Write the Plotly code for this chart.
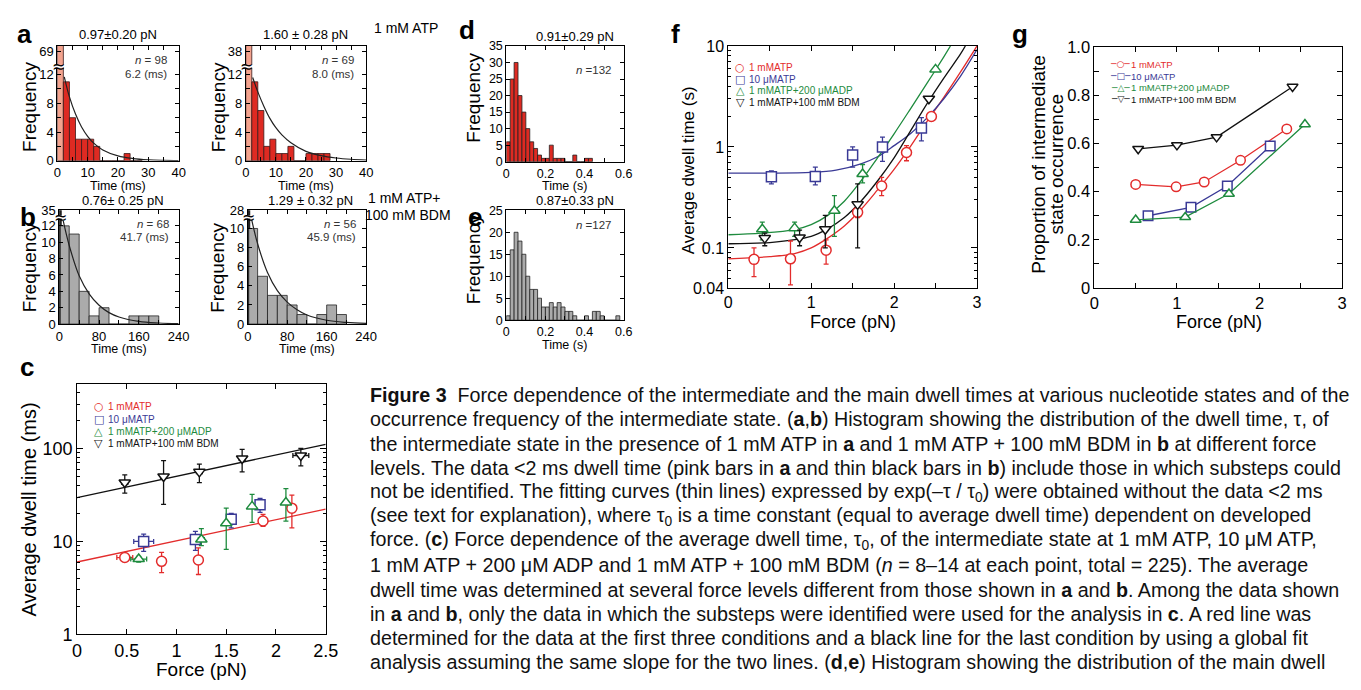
import plotly.graph_objects as go

W, H = 1361, 690
FONT = "Liberation Sans, Arial, sans-serif"
CAPFONT = "Liberation Sans, Arial, sans-serif"
SYMFONT = "DejaVu Sans, sans-serif"

RED = "#E32C2C"
BLUE = "#3A3A96"
GREEN = "#1E8B3E"
BLACK = "#111111"
BAR_RED = "#DE2A22"
BAR_PINK = "#F3A38E"
BAR_GRAY = "#ABABAB"
FIT = "#222222"

# ------------------------------------------------------------------ data
# (a) 1 mM ATP: intermediate dwell time histograms, 2-ms bins (first bin <2 ms)
a_bin_width_ms = 2
a1_counts = [69, 11, 6, 3, 3, 3, 2, 0, 0, 0, 0, 1, 0, 0]
a2_counts = [38, 11, 7, 2, 3, 1, 1, 2, 0, 0, 1, 1, 1, 1]
a_fit_t_ms = [2.3, 4, 6, 8, 10, 12, 15, 20, 25, 30, 35, 40]
a1_fit = [11.7, 8.9, 6.5, 4.7, 3.4, 2.45, 1.5, 0.67, 0.30, 0.13, 0.06, 0.03]
a2_fit = [11.6, 9.6, 7.6, 5.9, 4.6, 3.6, 2.5, 1.3, 0.7, 0.38, 0.2, 0.1]
a_titles = ["0.97\u00b10.20 pN", "1.60 \u00b1 0.28 pN"]
a_n = ["98", "69"]
a_tau = ["6.2 (ms)", "8.0 (ms)"]

# (b) 1 mM ATP + 100 mM BDM: bins <2 ms (thin black), 2-20 ms, then 20-ms bins
b_bin_left_ms = [0, 2, 20, 40, 60, 80, 100, 120, 140, 160, 180]
b_bin_right_ms = [2, 20, 40, 60, 80, 100, 120, 140, 160, 180, 200]
b1_counts = [35, 12, 11, 4, 1, 2, 0, 0, 1, 1, 1]
b2_counts = [28, 10, 5, 3, 3, 2, 1, 0, 1, 2, 1]
b_fit_t_ms = [8, 20, 40, 60, 80, 100, 120, 160, 200, 240]
b1_fit = [12.6, 9.6, 5.9, 3.7, 2.3, 1.4, 0.87, 0.33, 0.13, 0.05]
b2_fit = [10.9, 8.4, 5.4, 3.5, 2.3, 1.5, 0.95, 0.4, 0.17, 0.07]
b_titles = ["0.76\u00b1 0.25 pN", "1.29 \u00b1 0.32 pN"]
b_n = ["68", "56"]
b_tau = ["41.7 (ms)", "45.9 (ms)"]

# (c) average intermediate dwell time (ms) vs force (pN)
series_names = ["1 mMATP", "10 \u03bcMATP", "1 mMATP+200 \u03bcMADP", "1 mMATP+100 mM BDM"]
c_red_F = [0.48, 0.85, 1.22, 1.87, 2.16]
c_red_t = [6.7, 6.1, 6.3, 16.6, 22.8]
c_red_hi = [7.3, 7.6, 8.5, 19.5, 31.5]
c_red_lo = [6.1, 4.6, 4.4, 14.5, 14.0]
c_red_Ferr = [0.08, 0.0, 0.0, 0.0, 0.02]
c_blue_F = [0.67, 1.19, 1.55, 1.84]
c_blue_t = [10.0, 10.5, 17.3, 24.8]
c_blue_hi = [12.0, 12.8, 20.0, 29.0]
c_blue_lo = [7.8, 8.0, 14.0, 20.5]
c_blue_Ferr = [0.1, 0.04, 0.03, 0.03]
c_green_F = [0.62, 1.25, 1.50, 1.76, 2.10]
c_green_t = [6.45, 10.5, 15.7, 23.8, 26.2]
c_green_hi = [6.9, 13.7, 22.8, 32.0, 37.0]
c_green_lo = [6.0, 9.0, 8.2, 16.0, 16.5]
c_green_Ferr = [0.08, 0.03, 0.0, 0.02, 0.0]
c_black_F = [0.48, 0.87, 1.23, 1.66, 2.25]
c_black_t = [43, 50, 56, 78, 84]
c_black_hi = [52, 74, 68, 98, 100]
c_black_lo = [33, 25, 43, 56, 65]
c_black_Ferr = [0.03, 0.03, 0.03, 0.03, 0.08]
c_fit_F = [0.0, 2.5]
c_fit_red = [6.0, 22.3]
c_fit_black = [29.5, 111.0]

# (d), (e) main dwell time histograms, 20-ms bins
de_bin_width_s = 0.02
d_counts = [6, 25, 30, 20, 15, 10, 6, 4, 2, 1, 1, 5, 1, 1, 1, 0, 0, 2, 0, 0, 1, 1]
e_counts = [1, 16, 20, 18, 15, 10, 7, 7, 5, 3, 3, 4, 3, 4, 3, 2, 2, 1, 0, 0, 1, 0, 2, 2, 1, 0, 0, 0, 1]

# (f) average main dwell time (s) vs force
f_red_F = [0.31, 0.75, 1.18, 1.56, 1.85, 2.15, 2.45]
f_red_t = [0.077, 0.078, 0.095, 0.225, 0.41, 0.88, 2.0]
f_red_hi = [0.10, 0.117, 0.12, 0.27, 0.50, 1.03, 2.1]
f_red_lo = [0.052, 0.043, 0.069, 0.20, 0.33, 0.73, 1.9]
f_blue_F = [0.52, 1.05, 1.50, 1.86, 2.33]
f_blue_t = [0.507, 0.51, 0.83, 1.0, 1.54]
f_blue_hi = [0.58, 0.63, 1.0, 1.25, 1.95]
f_blue_lo = [0.43, 0.42, 0.63, 0.72, 1.15]
f_green_F = [0.41, 0.80, 1.28, 1.62, 2.50]
f_green_t = [0.153, 0.157, 0.233, 0.54, 5.86]
f_green_hi = [0.18, 0.18, 0.33, 0.67, 5.9]
f_green_lo = [0.12, 0.13, 0.13, 0.44, 5.8]
f_black_F = [0.44, 0.86, 1.17, 1.56, 2.42]
f_black_t = [0.125, 0.127, 0.153, 0.27, 3.0]
f_black_hi = [0.14, 0.15, 0.21, 0.43, 3.1]
f_black_lo = [0.105, 0.105, 0.10, 0.10, 2.9]
f_fit_red_F = [0, 0.5, 0.8, 1.0, 1.2, 1.4, 1.6, 1.8, 2.0, 2.2, 2.4, 2.6, 2.8, 3.0]
f_fit_red = [0.078, 0.082, 0.088, 0.10, 0.125, 0.165, 0.24, 0.375, 0.6, 1.02, 1.8, 3.1, 5.5, 10]
f_fit_blue_F = [0, 0.5, 1.0, 1.3, 1.6, 1.8, 2.0, 2.2, 2.4, 2.6, 2.8, 3.0]
f_fit_blue = [0.55, 0.55, 0.56, 0.59, 0.68, 0.8, 1.03, 1.36, 1.95, 3.0, 5.0, 9.2]
f_fit_green_F = [0, 0.4, 0.8, 1.0, 1.2, 1.4, 1.6, 1.8, 2.0, 2.2, 2.4, 2.6, 2.68]
f_fit_green = [0.135, 0.14, 0.152, 0.17, 0.21, 0.29, 0.46, 0.78, 1.35, 2.4, 4.3, 7.8, 10]
f_fit_black_F = [0, 0.5, 1.0, 1.2, 1.4, 1.6, 1.8, 2.0, 2.2, 2.4, 2.6, 2.8, 2.86]
f_fit_black = [0.11, 0.113, 0.13, 0.155, 0.2, 0.29, 0.46, 0.78, 1.45, 2.7, 4.8, 8.3, 10]

# (g) proportion of intermediate state occurrence vs force
g_red_F = [0.50, 0.99, 1.33, 1.77, 2.33]
g_red_p = [0.43, 0.42, 0.44, 0.53, 0.66]
g_blue_F = [0.65, 1.17, 1.61, 2.13]
g_blue_p = [0.30, 0.335, 0.423, 0.589]
g_green_F = [0.50, 1.10, 1.63, 2.55]
g_green_p = [0.283, 0.294, 0.391, 0.679]
g_black_F = [0.53, 1.00, 1.48, 2.40]
g_black_p = [0.577, 0.593, 0.626, 0.835]

caption_lines = [
    "<b>Figure 3</b>  Force dependence of the intermediate and the main dwell times at various nucleotide states and of the",
    "occurrence frequency of the intermediate state. (<b>a</b>,<b>b</b>) Histogram showing the distribution of the dwell time, \u03c4, of",
    "the intermediate state in the presence of 1 mM ATP in <b>a</b> and 1 mM ATP + 100 mM BDM in <b>b</b> at different force",
    "levels. The data &lt;2 ms dwell time (pink bars in <b>a</b> and thin black bars in <b>b</b>) include those in which substeps could",
    "not be identified. The fitting curves (thin lines) expressed by exp(\u2013\u03c4 / \u03c4<sub>0</sub>) were obtained without the data &lt;2 ms",
    "(see text for explanation), where \u03c4<sub>0</sub> is a time constant (equal to average dwell time) dependent on developed",
    "force. (<b>c</b>) Force dependence of the average dwell time, \u03c4<sub>0</sub>, of the intermediate state at 1 mM ATP, 10 \u03bcM ATP,",
    "1 mM ATP + 200 \u03bcM ADP and 1 mM ATP + 100 mM BDM (<i>n</i> = 8\u201314 at each point, total = 225). The average",
    "dwell time was determined at several force levels different from those shown in <b>a</b> and <b>b</b>. Among the data shown",
    "in <b>a</b> and <b>b</b>, only the data in which the substeps were identified were used for the analysis in <b>c</b>. A red line was",
    "determined for the data at the first three conditions and a black line for the last condition by using a global fit",
    "analysis assuming the same slope for the two lines. (<b>d</b>,<b>e</b>) Histogram showing the distribution of the main dwell",
]

# ------------------------------------------------------------------ helpers
fig = go.Figure()
layout = {}
annots = []
shapes = []


def ax_id(k):
    return ("x", "y") if k == 1 else (f"x{k}", f"y{k}")


def axis_common(size):
    return dict(showline=True, linecolor="black", linewidth=1, mirror="allticks",
                ticks="inside", ticklen=4, tickwidth=1, tickcolor="black",
                showgrid=False, zeroline=False,
                tickfont=dict(family=FONT, size=size, color="black"))


def set_axes(k, box, xopt, yopt, size):
    l, t, r, b = box
    xa = axis_common(size)
    xa.update(domain=[l / W, r / W], anchor=ax_id(k)[1])
    xa.update(xopt)
    ya = axis_common(size)
    ya.update(domain=[1 - b / H, 1 - t / H], anchor=ax_id(k)[0])
    ya.update(yopt)
    layout["xaxis" if k == 1 else f"xaxis{k}"] = xa
    layout["yaxis" if k == 1 else f"yaxis{k}"] = ya


def txt(x, y, s, size=13, anchor="center", color="black", angle=0, family=FONT):
    annots.append(dict(x=x / W, y=1 - y / H, xref="paper", yref="paper", text=s,
                       showarrow=False, xanchor=anchor, yanchor="middle", textangle=angle,
                       font=dict(size=size, color=color, family=family)))


def add(tr, k):
    xa, ya = ax_id(k)
    tr.update(xaxis=xa, yaxis=ya, showlegend=False)
    fig.add_trace(tr)


def breakmark(x, y):
    shapes.append(dict(type="rect", xref="paper", yref="paper", x0=(x - 6) / W, x1=(x + 7) / W,
                       y0=1 - (y + 1.5) / H, y1=1 - (y - 1.5) / H, fillcolor="white", line=dict(width=0)))
    txt(x, y, "\u2248", size=16, family=SYMFONT)


# ------------------------------------------------------------------ panels a
a_boxes = [(53, 38, 176, 156), (244, 38, 366, 156)]
for i, (counts, fit) in enumerate([(a1_counts, a1_fit), (a2_counts, a2_fit)]):
    k = 1 + i
    centers = [a_bin_width_ms * j + a_bin_width_ms / 2 for j in range(len(counts))]
    colors = [BAR_PINK] + [BAR_RED] * (len(counts) - 1)
    add(go.Bar(x=centers, y=counts, width=a_bin_width_ms, marker=dict(color=colors, line=dict(color="#3a1a1a", width=0.8))), k)
    add(go.Scatter(x=a_fit_t_ms, y=fit, mode="lines", line=dict(color=FIT, width=1.2, shape="spline")), k)
    set_axes(k, a_boxes[i],
             dict(range=[0, 40], tickvals=list(range(0, 41, 5)), ticktext=["0", "", "10", "", "20", "", "30", "", "40"]),
             dict(range=[0, 16], tickvals=[0, 2, 4, 6, 8, 10, 12, 15.2], ticktext=["0", "", "4", "", "8", "", "12", str(counts[0])]),
             13)
    l, t, r, b = a_boxes[i]
    txt((l + r) / 2, 26, a_titles[i], 13)
    txt(r - 10, 52, "<i>n</i> = " + a_n[i], 11.5, "right", "#333")
    txt(r - 10, 67, a_tau[i], 11.5, "right", "#333")
    txt(l - 28, 101, "Frequency", 19, angle=-90)
    txt((l + r) / 2, 182, "Time (ms)", 12.5)
    breakmark(l + 1, 59)

# ------------------------------------------------------------------ panels b
b_boxes = [(55, 207, 176, 324), (246, 207, 366, 324)]
b_ranges = [13.9, 11.9]
for i, (counts, fit) in enumerate([(b1_counts, b1_fit), (b2_counts, b2_fit)]):
    k = 3 + i
    centers = [(lo + hi) / 2 for lo, hi in zip(b_bin_left_ms, b_bin_right_ms)]
    widths = [hi - lo for lo, hi in zip(b_bin_left_ms, b_bin_right_ms)]
    colors = [BLACK] + [BAR_GRAY] * (len(counts) - 1)
    lws = [3] + [0.8] * (len(counts) - 1)
    add(go.Bar(x=centers, y=counts, width=widths, marker=dict(color=colors, line=dict(color="#222", width=lws))), k)
    add(go.Scatter(x=b_fit_t_ms, y=fit, mode="lines", line=dict(color=FIT, width=1.2, shape="spline")), k)
    top = b_ranges[i]
    yt = list(range(0, int(top) + 1, 2))
    set_axes(k, b_boxes[i],
             dict(range=[0, 240], tickvals=list(range(0, 241, 40)), ticktext=["0", "", "80", "", "160", "", "240"]),
             dict(range=[0, top], tickvals=yt + [top - 0.05], ticktext=[str(v) for v in yt] + [str(counts[0])]),
             13)
    l, t, r, b = b_boxes[i]
    txt((l + r) / 2 + 4, 197, b_titles[i], 13)
    txt(r - 8, 221, "<i>n</i> = " + b_n[i], 11.5, "right", "#333")
    txt(r - 8, 234, b_tau[i], 11.5, "right", "#333")
    txt(l - 30, 266, "Frequency", 19, angle=-90)
    txt((l + r) / 2, 350, "Time (ms)", 12.5)
    breakmark(l + 1, 214)

txt(372, 20, "1 mM ATP", 14, "left")
txt(366, 194, "1 mM ATP+", 14, "left")
txt(363, 212, "100 mM BDM", 14, "left")

# ------------------------------------------------------------------ panel c
k = 5
c_sets = [
    (c_red_F, c_red_t, c_red_hi, c_red_lo, c_red_Ferr, RED, "circle"),
    (c_blue_F, c_blue_t, c_blue_hi, c_blue_lo, c_blue_Ferr, BLUE, "square"),
    (c_green_F, c_green_t, c_green_hi, c_green_lo, c_green_Ferr, GREEN, "triangle-up"),
    (c_black_F, c_black_t, c_black_hi, c_black_lo, c_black_Ferr, BLACK, "triangle-down"),
]
add(go.Scatter(x=c_fit_F, y=c_fit_red, mode="lines", line=dict(color=RED, width=1.3)), k)
add(go.Scatter(x=c_fit_F, y=c_fit_black, mode="lines", line=dict(color=BLACK, width=1.3)), k)
for F, t, hi, lo, ferr, col, sym in c_sets:
    add(go.Scatter(x=F, y=t, mode="markers",
                   marker=dict(symbol=sym, size=10, color="white", line=dict(color=col, width=1.5)),
                   error_y=dict(type="data", symmetric=False, array=[h - v for h, v in zip(hi, t)],
                                arrayminus=[v - q for v, q in zip(t, lo)], color=col, thickness=1.3, width=2.5),
                   error_x=dict(type="data", array=ferr, color=col, thickness=1.3, width=2.5)), k)
minor_c = [2, 3, 4, 5, 6, 7, 8, 9, 20, 30, 40, 50, 60, 70, 80, 90, 200, 300, 400]
set_axes(k, (73, 386, 325, 643),
         dict(range=[0, 2.5], tickvals=[0, 0.5, 1, 1.5, 2, 2.5], ticktext=["0", "0.5", "1", "1.5", "2", "2.5"], ticklen=5),
         dict(type="log", range=[0, 2.69], tickvals=[1, 10, 100], ticktext=["1", "10", "100"], ticklen=6,
              minor=dict(tickvals=minor_c, ticks="inside", ticklen=3, tickcolor="black")),
         18)
txt(24, 515, "Average dwell time (ms)", 20, angle=-90)
txt(199, 679, "Force (pN)", 19)
leg_sym = ["\u25cb", "\u25a1", "\u25b3", "\u25bd"]
leg_col = [RED, BLUE, GREEN, BLACK]
for j in range(4):
    y = 409 + 12.7 * j
    txt(95, y, leg_sym[j], 11, color=leg_col[j], family=SYMFONT)
    txt(102, y, series_names[j], 10, "left", leg_col[j])

# ------------------------------------------------------------------ panels d, e
for i, (counts, col, box, top, title, n) in enumerate([
        (d_counts, BAR_RED, (508, 38, 627, 157), 35, "0.91\u00b10.29 pN", "132"),
        (e_counts, BAR_GRAY, (508, 207, 627, 320), 25, "0.87\u00b10.33 pN", "127")]):
    k = 6 + i
    centers = [de_bin_width_s * j + de_bin_width_s / 2 for j in range(len(counts))]
    add(go.Bar(x=centers, y=counts, width=de_bin_width_s, marker=dict(color=col, line=dict(color="#222", width=0.8))), k)
    set_axes(k, box,
             dict(range=[0, 0.6], tickvals=[0, 0.1, 0.2, 0.3, 0.4, 0.5, 0.6], ticktext=["0", "", "0.2", "", "0.4", "", "0.6"]),
             dict(range=[0, top], tickvals=list(range(0, top + 1, 5))),
             12.5)
    l, t, r, b = box
    txt((l + r) / 2 + 10, t - 10, title, 13)
    txt(r - 10, t + 25 if i == 0 else t + 15, "<i>n</i> =" + n, 11.5, "right", "#333")
    txt(l - 33, (t + b) / 2 - 6, "Frequency", 19, angle=-90)
    txt((l + r) / 2, b + 25, "Time (s)", 12.5)

# ------------------------------------------------------------------ panel f
k = 8
f_sets = [
    (f_red_F, f_red_t, f_red_hi, f_red_lo, f_fit_red_F, f_fit_red, RED, "circle"),
    (f_blue_F, f_blue_t, f_blue_hi, f_blue_lo, f_fit_blue_F, f_fit_blue, BLUE, "square"),
    (f_green_F, f_green_t, f_green_hi, f_green_lo, f_fit_green_F, f_fit_green, GREEN, "triangle-up"),
    (f_black_F, f_black_t, f_black_hi, f_black_lo, f_fit_black_F, f_fit_black, BLACK, "triangle-down"),
]
for F, t, hi, lo, cf, cy, col, sym in f_sets:
    add(go.Scatter(x=cf, y=cy, mode="lines", line=dict(color=col, width=1.3, shape="spline")), k)
for F, t, hi, lo, cf, cy, col, sym in f_sets:
    add(go.Scatter(x=F, y=t, mode="markers",
                   marker=dict(symbol=sym, size=10, color="white", line=dict(color=col, width=1.5)),
                   error_y=dict(type="data", symmetric=False, array=[h - v for h, v in zip(hi, t)],
                                arrayminus=[v - q for v, q in zip(t, lo)], color=col, thickness=1.3, width=2.5)), k)
minor_f = [0.05, 0.06, 0.07, 0.08, 0.09, 0.2, 0.3, 0.4, 0.5, 0.6, 0.7, 0.8, 0.9, 2, 3, 4, 5, 6, 7, 8, 9]
set_axes(k, (733, 38, 985, 287),
         dict(range=[0, 3], tickvals=[0, 0.5, 1, 1.5, 2, 2.5, 3], ticktext=["0", "", "1", "", "2", "", "3"], ticklen=5),
         dict(type="log", range=[-1.39794, 1], tickvals=[0.04, 0.1, 1, 10], ticktext=["0.04", "0.1", "1", "10"], ticklen=6,
              minor=dict(tickvals=minor_f, ticks="inside", ticklen=3, tickcolor="black")),
         16)
txt(693, 166, "Average dwell time (s)", 17, angle=-90)
txt(859, 322, "Force (pN)", 18)
for j in range(4):
    y = 60 + 12 * j
    txt(745, y, leg_sym[j], 11, color=leg_col[j], family=SYMFONT)
    txt(752, y, series_names[j], 10, "left", leg_col[j])

# ------------------------------------------------------------------ panel g
k = 9
g_sets = [
    (g_red_F, g_red_p, RED, "circle"),
    (g_blue_F, g_blue_p, BLUE, "square"),
    (g_green_F, g_green_p, GREEN, "triangle-up"),
    (g_black_F, g_black_p, BLACK, "triangle-down"),
]
for F, p, col, sym in g_sets:
    add(go.Scatter(x=F, y=p, mode="lines+markers", line=dict(color=col, width=1.3),
                   marker=dict(symbol=sym, size=9.5, color="white", line=dict(color=col, width=1.5))), k)
set_axes(k, (1104, 39, 1355, 287),
         dict(range=[0, 3], tickvals=[0, 0.5, 1, 1.5, 2, 2.5, 3], ticktext=["0", "", "1", "", "2", "", "3"], ticklen=5),
         dict(range=[0, 1], tickvals=[0, 0.1, 0.2, 0.3, 0.4, 0.5, 0.6, 0.7, 0.8, 0.9, 1.0],
              ticktext=["0", "", "0.2", "", "0.4", "", "0.6", "", "0.8", "", "1.0"], ticklen=5),
         16.5)
txt(1047, 160, "Proportion of intermediate", 19, angle=-90)
txt(1066, 160, "state occurrence", 19, angle=-90)
txt(1230, 322, "Force (pN)", 18)
for j in range(4):
    y = 57 + 12 * j
    txt(1130, y, "\u2500" + leg_sym[j] + "\u2500", 9, color=leg_col[j], family=SYMFONT)
    txt(1139, y, series_names[j], 9.5, "left", leg_col[j])

# ------------------------------------------------------------------ panel letters
for s, x, y in [("a", 20, 26), ("b", 23, 214), ("c", 22, 368), ("d", 468, 22),
                ("e", 476, 214), ("f", 679, 26), ("g", 1029, 26)]:
    txt(x, y, "<b>" + s + "</b>", 26)

# ------------------------------------------------------------------ caption
for j, line in enumerate(caption_lines):
    txt(368, 397 + 25 * j, line, 19.7, "left", "#111", family=CAPFONT)

layout.update(width=W, height=H, margin=dict(l=0, r=0, t=0, b=0),
              paper_bgcolor="white", plot_bgcolor="white",
              annotations=annots, shapes=shapes, showlegend=False,
              font=dict(family=FONT, color="black"))
fig.update_layout(**layout)
fig.write_html("out.html", config={"displayModeBar": False},
               post_script="document.body.style.margin='0';document.body.style.padding='0';document.body.style.overflow='hidden';")
